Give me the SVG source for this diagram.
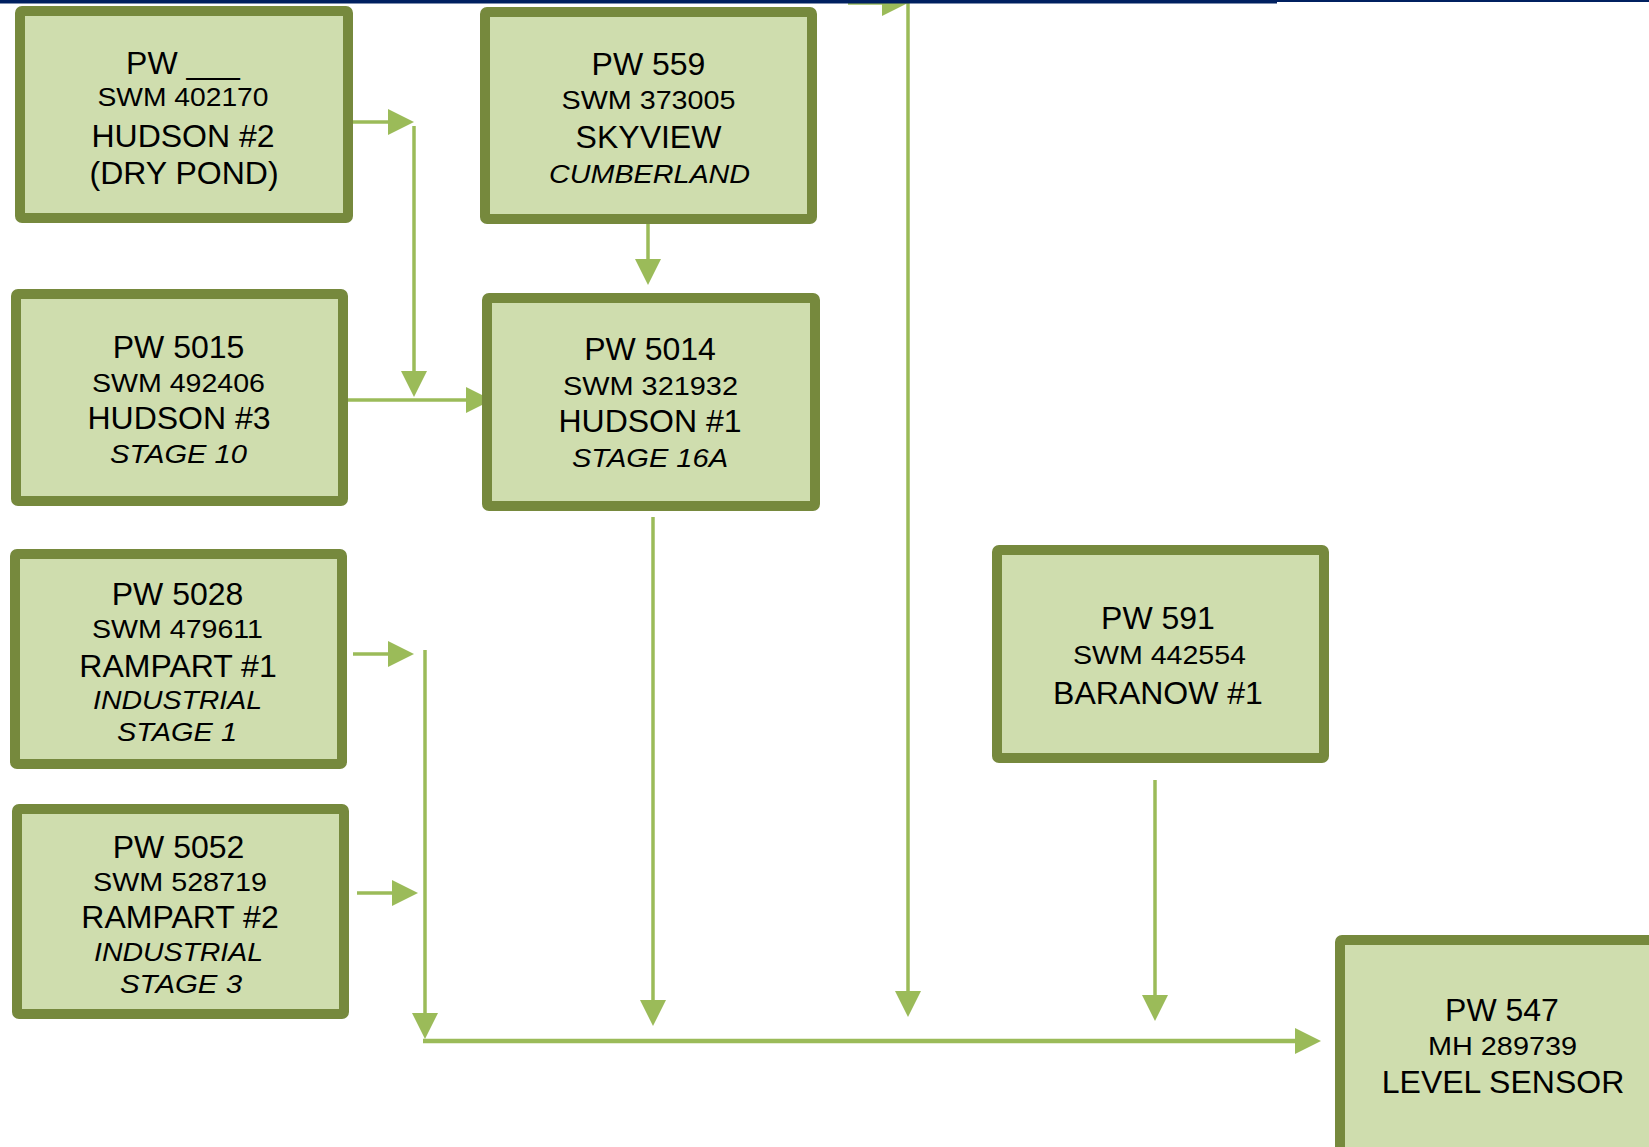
<svg xmlns="http://www.w3.org/2000/svg" width="1649" height="1147" viewBox="0 0 1649 1147">
<style>
.box{fill:#cfddae;stroke:#76893d;stroke-width:10;stroke-linejoin:round}
.big{font-family:"Liberation Sans",Arial,sans-serif;font-size:32px;fill:#000;text-anchor:middle}
.sm{font-family:"Liberation Sans",Arial,sans-serif;font-size:26px;fill:#000;text-anchor:middle}
.it{font-style:italic}
.con{fill:none;stroke:#9bbb59;stroke-width:3.5}
.thick{stroke-width:4.5}
</style>
<defs>
<marker id="ah" markerUnits="userSpaceOnUse" markerWidth="26" markerHeight="26" viewBox="0 0 26 26" refX="0" refY="13" orient="auto">
<path d="M0,0 L26,13 L0,26 z" fill="#9bbb59"/>
</marker>
</defs>
<rect width="1649" height="1147" fill="#fff"/>
<g id="connectors">
<path class="con" d="M353,122 H388" marker-end="url(#ah)"/>
<path class="con" d="M414,126 V371" marker-end="url(#ah)"/>
<path class="con" d="M348,400 H466" marker-end="url(#ah)"/>
<path class="con" d="M648,224 V259" marker-end="url(#ah)"/>
<path class="con" d="M353,654 H388" marker-end="url(#ah)"/>
<path class="con" d="M357,893 H392" marker-end="url(#ah)"/>
<path class="con" d="M425,650 V1013" marker-end="url(#ah)"/>
<path class="con" d="M653,517 V1000" marker-end="url(#ah)"/>
<path class="con" d="M848,3 H882" marker-end="url(#ah)"/>
<path class="con" d="M908,0 V991" marker-end="url(#ah)"/>
<path class="con" d="M1155,780 V995" marker-end="url(#ah)"/>
<path class="con thick" d="M423,1041 H1295" marker-end="url(#ah)"/>
</g>
<g id="node-hudson2">
<rect class="box" x="20" y="11" width="328" height="207" rx="2"/>
<text class="big" x="183" y="73.5">PW ___</text>
<text class="sm" x="183" y="106" textLength="171" lengthAdjust="spacingAndGlyphs">SWM 402170</text>
<text class="big" x="183" y="146.5">HUDSON #2</text>
<text class="big" x="184" y="184">(DRY POND)</text>
</g>
<g id="node-skyview">
<rect class="box" x="485" y="12" width="327" height="207" rx="2"/>
<text class="big" x="648.5" y="75">PW 559</text>
<text class="sm" x="648.5" y="109" textLength="174" lengthAdjust="spacingAndGlyphs">SWM 373005</text>
<text class="big" x="648.5" y="147.5">SKYVIEW</text>
<text class="sm it" x="649.5" y="183" textLength="201" lengthAdjust="spacingAndGlyphs">CUMBERLAND</text>
</g>
<g id="node-hudson3">
<rect class="box" x="16" y="294" width="327" height="207" rx="2"/>
<text class="big" x="178.5" y="357.5">PW 5015</text>
<text class="sm" x="178.5" y="391.5" textLength="173" lengthAdjust="spacingAndGlyphs">SWM 492406</text>
<text class="big" x="179" y="429">HUDSON #3</text>
<text class="sm it" x="178.5" y="462.5" textLength="137" lengthAdjust="spacingAndGlyphs">STAGE 10</text>
</g>
<g id="node-hudson1">
<rect class="box" x="487" y="298" width="328" height="208" rx="2"/>
<text class="big" x="650" y="360">PW 5014</text>
<text class="sm" x="650.5" y="395" textLength="175" lengthAdjust="spacingAndGlyphs">SWM 321932</text>
<text class="big" x="650" y="432">HUDSON #1</text>
<text class="sm it" x="650" y="466.5" textLength="156" lengthAdjust="spacingAndGlyphs">STAGE 16A</text>
</g>
<g id="node-rampart1">
<rect class="box" x="15" y="554" width="327" height="210" rx="2"/>
<text class="big" x="177.5" y="604.5">PW 5028</text>
<text class="sm" x="177.5" y="637.5" textLength="171" lengthAdjust="spacingAndGlyphs">SWM 479611</text>
<text class="big" x="178" y="676.5">RAMPART #1</text>
<text class="sm it" x="177.5" y="708.5" textLength="169" lengthAdjust="spacingAndGlyphs">INDUSTRIAL</text>
<text class="sm it" x="177" y="740.5" textLength="120" lengthAdjust="spacingAndGlyphs">STAGE 1</text>
</g>
<g id="node-rampart2">
<rect class="box" x="17" y="809" width="327" height="205" rx="2"/>
<text class="big" x="178.5" y="857.5">PW 5052</text>
<text class="sm" x="180" y="890.5" textLength="174" lengthAdjust="spacingAndGlyphs">SWM 528719</text>
<text class="big" x="180" y="928">RAMPART #2</text>
<text class="sm it" x="178.5" y="961" textLength="169" lengthAdjust="spacingAndGlyphs">INDUSTRIAL</text>
<text class="sm it" x="181" y="992.5" textLength="122" lengthAdjust="spacingAndGlyphs">STAGE 3</text>
</g>
<g id="node-baranow1">
<rect class="box" x="997" y="550" width="327" height="208" rx="2"/>
<text class="big" x="1158" y="629">PW 591</text>
<text class="sm" x="1159.5" y="664" textLength="173" lengthAdjust="spacingAndGlyphs">SWM 442554</text>
<text class="big" x="1158" y="704">BARANOW #1</text>
</g>
<g id="node-levelsensor">
<rect class="box" x="1340" y="940" width="330" height="230" rx="2"/>
<text class="big" x="1502" y="1021">PW 547</text>
<text class="sm" x="1502.5" y="1055" textLength="149" lengthAdjust="spacingAndGlyphs">MH 289739</text>
<text class="big" x="1503" y="1092.5">LEVEL SENSOR</text>
</g>
<g id="topband">
<rect x="0" y="0" width="1277" height="3.5" fill="#002060"/>
<rect x="1277" y="0" width="372" height="2" fill="#002060"/>
</g>
</svg>
